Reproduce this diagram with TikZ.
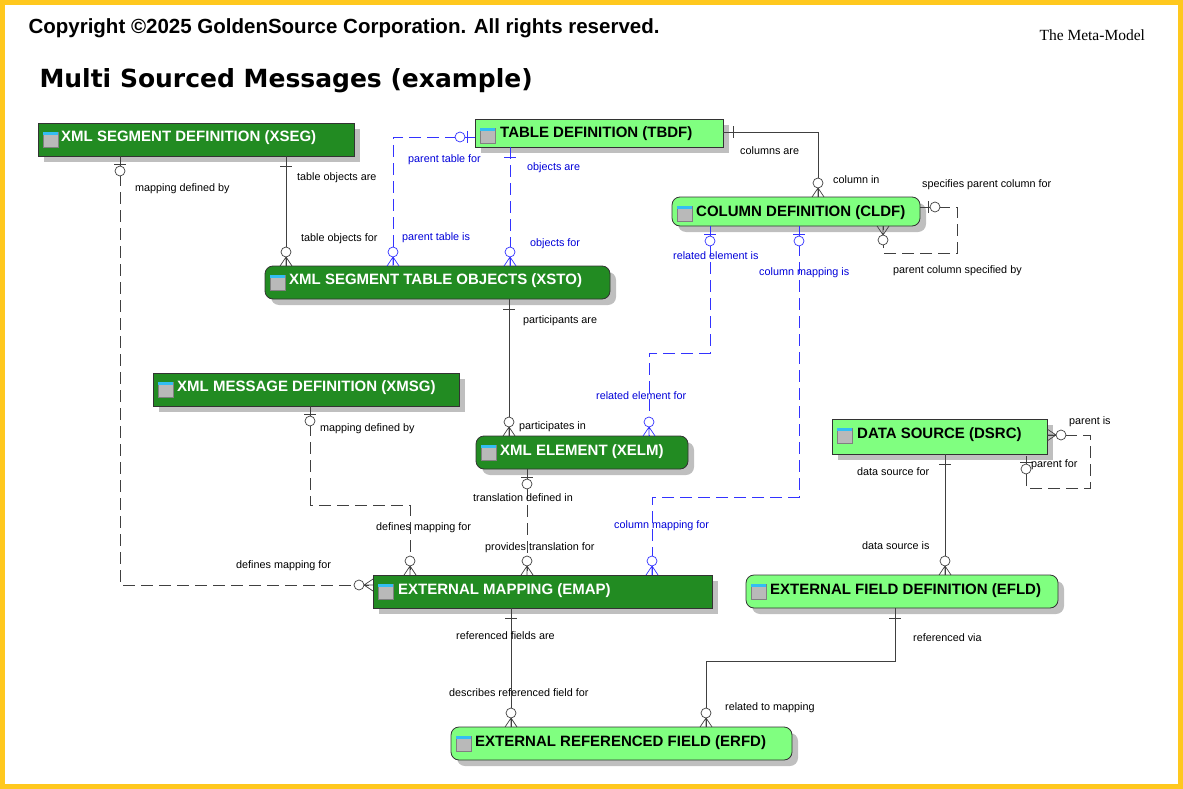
\documentclass[tikz,border=0pt]{standalone}
\usepackage{fontspec}
\setmainfont{Liberation Sans}
\newfontfamily\serifl{Liberation Serif}
\newfontfamily\titlef{DejaVu Sans}
\definecolor{dk}{RGB}{34,139,34}
\definecolor{lt}{RGB}{128,255,128}
\definecolor{frame}{RGB}{255,200,30}
\begin{document}
\begin{tikzpicture}[x=1pt,y=-1pt,
  lbl/.style={font=\fontsize{10.8}{12}\selectfont,anchor=west,inner sep=1pt,yshift=-1pt},
  blbl/.style={lbl,text=blue!85!black},
  rel/.style={line width=0.7pt,draw=black!75},
  brel/.style={rel,draw=blue!80},
  dsh/.style={dash pattern=on 12pt off 6pt},
  en/.style={anchor=west,font=\fontsize{15}{16}\selectfont\bfseries,inner sep=0pt,yshift=-2pt},
  pics/one/.style={code={\draw[solid] (-6,10)--(6,10);}},
  pics/zeroone/.style={code={\draw[solid] (-6,8)--(6,8);\draw[solid,fill=white] (0,15) circle (5);}},
  pics/zeromany/.style={code={\draw[solid] (-6,0)--(0,9)--(6,0) (0,0)--(0,9);\draw[solid,fill=white] (0,14) circle (5);}},
]
\useasboundingbox (0,0) rectangle (1183,789);
\draw[line width=5pt,draw=frame] (2.5,2.5) rectangle (1180.5,786.5);
\node[anchor=west,font=\fontsize{20.5}{22}\selectfont\bfseries] at (25,28) {Copyright ©2025 GoldenSource Corporation. All rights reserved.};
\node[anchor=west,font=\serifl\fontsize{15.5}{17}\selectfont] at (1036,35) {The Meta-Model};
\node[anchor=west,font=\titlef\fontsize{25}{28}\selectfont\bfseries] at (36,81) {Multi Sourced Messages (example)};

\newcommand\ent[7]{%
  \fill[black!25] (#3+6,#4+6) [rounded corners=#7] rectangle (#5+6,#6+6);
  \draw[#2,line width=0.8pt,draw=black!80,rounded corners=#7] (#3,#4) rectangle (#5,#6);
  \fill[gray!55,draw=gray] (#3+5,#4+9) rectangle (#3+20,#4+24);
  \fill[cyan!80] (#3+5,#4+9) rectangle (#3+20,#4+12);
}
\ent{xseg}{fill=dk}{38}{123}{354}{156}{0pt}
\node[en,text=white] (XSEG) at (61,136) {XML SEGMENT DEFINITION (XSEG)};
\ent{tbdf}{fill=lt}{475}{119}{723}{147}{0pt}
\node[en] (TBDF) at (500,132) {TABLE DEFINITION (TBDF)};
\ent{cldf}{fill=lt}{672}{197}{920}{226}{8pt}
\node[en] (CLDF) at (696,211) {COLUMN DEFINITION (CLDF)};
\ent{xsto}{fill=dk}{265}{266}{610}{299}{8pt}
\node[en,text=white] (XSTO) at (289,279) {XML SEGMENT TABLE OBJECTS (XSTO)};
\ent{xmsg}{fill=dk}{153}{373}{459}{406}{0pt}
\node[en,text=white] (XMSG) at (177,386) {XML MESSAGE DEFINITION (XMSG)};
\ent{xelm}{fill=dk}{476}{436}{688}{469}{8pt}
\node[en,text=white] (XELM) at (500,450) {XML ELEMENT (XELM)};
\ent{dsrc}{fill=lt}{832}{419}{1047}{454}{0pt}
\node[en] (DSRC) at (857,433) {DATA SOURCE (DSRC)};
\ent{emap}{fill=dk}{373}{575}{712}{608}{0pt}
\node[en,text=white] (EMAP) at (398,589) {EXTERNAL MAPPING (EMAP)};
\ent{efld}{fill=lt}{746}{575}{1058}{608}{8pt}
\node[en] (EFLD) at (770,589) {EXTERNAL FIELD DEFINITION (EFLD)};
\ent{erfd}{fill=lt}{451}{727}{792}{760}{8pt}
\node[en] (ERFD) at (475,741) {EXTERNAL REFERENCED FIELD (ERFD)};

% connectors
\coordinate (a1) at (286,156); \coordinate (b1) at (286,266);
\draw[rel] (a1) -- (b1);
\path[rel] (a1) pic {one} (b1) pic[rotate=180] {zeromany};

\coordinate (a2) at (120,156); \coordinate (k2) at (120,585); \coordinate (b2) at (373,585);
\draw[rel,dsh] (a2) -- (k2) -- (b2);
\path[rel] (a2) pic {zeroone} (b2) pic[rotate=-90] {zeromany};

\coordinate (a3) at (475,137); \coordinate (k3) at (393,137); \coordinate (b3) at (393,266);
\draw[brel,dsh] (a3) -- (k3) -- (b3);
\path[brel] (a3) pic[rotate=-90] {zeroone} (b3) pic[rotate=180] {zeromany};

\coordinate (a4) at (510,147); \coordinate (b4) at (510,266);
\draw[brel,dsh] (a4) -- (b4);
\path[brel] (a4) pic {one} (b4) pic[rotate=180] {zeromany};

\coordinate (a5) at (723,132); \coordinate (k5) at (818,132); \coordinate (b5) at (818,197);
\draw[rel] (a5) -- (k5) -- (b5);
\path[rel] (a5) pic[rotate=90] {one} (b5) pic[rotate=180] {zeromany};

\coordinate (a6) at (920,207); \coordinate (k6) at (957,207); \coordinate (m6) at (957,253); \coordinate (n6) at (883,253); \coordinate (b6) at (883,226);
\draw[rel,dsh] (a6) -- (k6) -- (m6) -- (n6) -- (b6);
\path[rel] (a6) pic[rotate=90] {zeroone} (b6) pic {zeromany};

\coordinate (a7) at (710,226); \coordinate (k7) at (710,353); \coordinate (m7) at (649,353); \coordinate (b7) at (649,436);
\draw[brel,dsh] (a7) -- (k7) -- (m7) -- (b7);
\path[brel] (a7) pic {zeroone} (b7) pic[rotate=180] {zeromany};

\coordinate (a8) at (799,226); \coordinate (k8) at (799,497); \coordinate (m8) at (652,497); \coordinate (b8) at (652,575);
\draw[brel,dsh] (a8) -- (k8) -- (m8) -- (b8);
\path[brel] (a8) pic {zeroone} (b8) pic[rotate=180] {zeromany};

\coordinate (a9) at (509,299); \coordinate (b9) at (509,436);
\draw[rel] (a9) -- (b9);
\path[rel] (a9) pic {one} (b9) pic[rotate=180] {zeromany};

\coordinate (a10) at (310,406); \coordinate (k10) at (310,505); \coordinate (m10) at (410,505); \coordinate (b10) at (410,575);
\draw[rel,dsh] (a10) -- (k10) -- (m10) -- (b10);
\path[rel] (a10) pic {zeroone} (b10) pic[rotate=180] {zeromany};

\coordinate (a11) at (527,469); \coordinate (b11) at (527,575);
\draw[rel,dsh] (a11) -- (b11);
\path[rel] (a11) pic {zeroone} (b11) pic[rotate=180] {zeromany};

\coordinate (a12) at (945,454); \coordinate (b12) at (945,575);
\draw[rel] (a12) -- (b12);
\path[rel] (a12) pic {one} (b12) pic[rotate=180] {zeromany};

\coordinate (a13) at (1047,435); \coordinate (k13) at (1090,435); \coordinate (m13) at (1090,488); \coordinate (n13) at (1026,488); \coordinate (b13) at (1026,454);
\draw[rel,dsh] (a13) -- (k13) -- (m13) -- (n13) -- (b13);
\path[rel] (a13) pic[rotate=90] {zeromany} (b13) pic {zeroone};

\coordinate (a14) at (511,608); \coordinate (b14) at (511,727);
\draw[rel] (a14) -- (b14);
\path[rel] (a14) pic {one} (b14) pic[rotate=180] {zeromany};

\coordinate (a15) at (895,608); \coordinate (k15) at (895,661); \coordinate (m15) at (706,661); \coordinate (b15) at (706,727);
\draw[rel] (a15) -- (k15) -- (m15) -- (b15);
\path[rel] (a15) pic {one} (b15) pic[rotate=180] {zeromany};

% labels
\node[lbl] at (134,188) {mapping defined by};
\node[lbl] at (296,177) {table objects are};
\node[lbl] at (300,238) {table objects for};
\node[blbl] at (407,159) {parent table for};
\node[blbl] at (526,167) {objects are};
\node[blbl] at (401,237) {parent table is};
\node[blbl] at (529,243) {objects for};
\node[lbl] at (739,150) {columns are};
\node[lbl] at (832,179) {column in};
\node[lbl] at (921,184) {specifies parent column for};
\node[lbl] at (892,270) {parent column specified by};
\node[blbl] at (672,255) {related element is};
\node[blbl] at (758,272) {column mapping is};
\node[lbl] at (522,320) {participants are};
\node[blbl] at (595,395) {related element for};
\node[lbl] at (518,426) {participates in};
\node[lbl] at (319,428) {mapping defined by};
\node[lbl] at (472,497) {translation defined in};
\node[lbl] at (375,527) {defines mapping for};
\node[blbl] at (613,525) {column mapping for};
\node[lbl] at (484,547) {provides translation for};
\node[lbl] at (235,565) {defines mapping for};
\node[lbl] at (1068,421) {parent is};
\node[lbl] at (1030,464) {parent for};
\node[lbl] at (856,471) {data source for};
\node[lbl] at (861,545) {data source is};
\node[lbl] at (455,635) {referenced fields are};
\node[lbl] at (912,637) {referenced via};
\node[lbl] at (448,692) {describes referenced field for};
\node[lbl] at (724,707) {related to mapping};
\end{tikzpicture}
\end{document}
